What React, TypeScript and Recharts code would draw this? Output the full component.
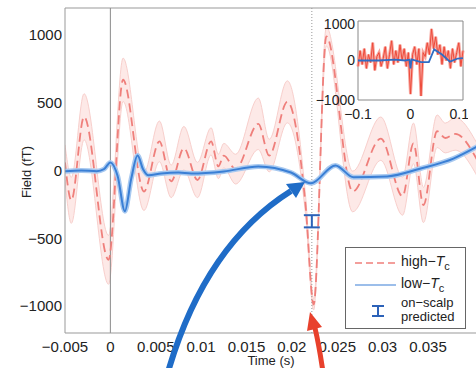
import {
  ComposedChart,
  Line,
  Area,
  Scatter,
  ErrorBar,
  XAxis,
  YAxis,
  ReferenceLine,
  ReferenceArea,
} from 'recharts';

// --- Data ---

const highT = [-0.005, -0.0043, -0.0029, -0.0002, 0.0014, 0.0037, 0.0054, 0.0067, 0.0081, 0.0096, 0.0111, 0.0119, 0.0125, 0.0138, 0.0163, 0.0175, 0.0195, 0.0215, 0.0224, 0.0238, 0.0267, 0.0298, 0.0322, 0.0334, 0.0345, 0.036, 0.0369, 0.038, 0.0404];
const highMean = [60, -220, 397, -660, 670, -155, 215, -80, 165, -70, 215, 30, 110, 10, 345, 110, 507, -250, -990, 990, -155, 235, -190, 200, -255, 290, 240, 270, 80];
const highSpread = [130, 170, 170, 180, 160, 140, 150, 120, 160, 130, 100, 90, 90, 110, 190, 120, 155, 70, 40, 70, 150, 160, 140, 150, 130, 120, 110, 120, 120];

const lowT = [-0.005, -0.0032, -0.0015, -0.0007, 0, 0.0008, 0.0016, 0.0023, 0.003, 0.0036, 0.0042, 0.0056, 0.0075, 0.0089, 0.0125, 0.0163, 0.0199, 0.0221, 0.0248, 0.0268, 0.0305, 0.0342, 0.0378, 0.0404];
const lowMean = [-5, 0, -5, 10, 60, -40, -300, -60, 110, 10, -35, -22, -15, -22, -7, 30, -15, -95, 37, -50, -44, 15, 88, 176];

const predicted = [{ t: 0.0222, v: -375, err: 45 }];
const peakTime = 0.0222;

const xTicks = [-0.005, 0, 0.005, 0.01, 0.015, 0.02, 0.025, 0.03, 0.035];
const yTicks = [-1000, -500, 0, 500, 1000];

// inset: wide time window
const insetT = [-0.1, -0.096, -0.092, -0.088, -0.084, -0.08, -0.076, -0.072, -0.068, -0.064, -0.06, -0.056, -0.052, -0.048, -0.044, -0.04, -0.036, -0.032, -0.028, -0.024, -0.02, -0.016, -0.012, -0.008, -0.004, 0, 0.004, 0.008, 0.012, 0.016, 0.02, 0.024, 0.028, 0.032, 0.036, 0.04, 0.044, 0.048, 0.052, 0.056, 0.06, 0.064, 0.068, 0.072, 0.076, 0.08, 0.084, 0.088, 0.092, 0.096, 0.1];
const insetHigh = [-150, 250, -100, 300, -200, 150, -50, 450, -250, 100, 200, -150, 50, 350, -200, 150, 500, -100, 250, -50, 400, 0, 300, -150, 200, -850, 150, 350, -100, 300, -900, 200, 100, 450, 150, 800, 300, 600, 150, 400, -100, 350, 0, 250, -200, 300, -50, 200, 450, -150, 250];
const insetLowT = [-0.1, -0.06, -0.03, -0.01, -0.002, 0, 0.002, 0.02, 0.035, 0.045, 0.06, 0.075, 0.09, 0.1];
const insetLow = [0, 0, 20, 0, 20, -200, 30, -40, -40, 280, 150, -30, 50, 60];

// --- Build tables ---

const rows = new Map<string, Record<string, number | number[]>>();
const rowAt = (t: number) => {
  const k = t.toFixed(5);
  if (!rows.has(k)) rows.set(k, { t });
  return rows.get(k)!;
};
highT.forEach((t, i) => {
  const r = rowAt(t);
  r.high = highMean[i];
  r.band = [highMean[i] - highSpread[i], highMean[i] + highSpread[i]];
});
lowT.forEach((t, i) => {
  rowAt(t).low = lowMean[i];
});
const mainData = Array.from(rows.values()).sort((a, b) => (a.t as number) - (b.t as number));

const insetRows = new Map<string, Record<string, number>>();
const insetAt = (t: number) => {
  const k = t.toFixed(4);
  if (!insetRows.has(k)) insetRows.set(k, { t });
  return insetRows.get(k)!;
};
insetT.forEach((t, i) => { insetAt(t).high = insetHigh[i]; });
insetLowT.forEach((t, i) => { insetAt(t).low = insetLow[i]; });
const insetData = Array.from(insetRows.values()).sort((a, b) => a.t - b.t);

const fmt = (v: number) => (v === 0 ? '0' : (v < 0 ? '\u2212' : '') + String(Math.abs(v)));

const FONT = '"Liberation Sans", Arial, sans-serif';
const TEXT = '#222';
const AXIS = '#999';
const RED = '#ef7f7b';
const BLUE = '#3a7fd5';

function Inset() {
  return (
    <div style={{ position: 'absolute', left: 306, top: 16 }}>
      <ComposedChart width={162} height={110} data={insetData} margin={{ top: 5, right: 5, bottom: 0, left: 0 }}>
        <XAxis
          dataKey="t"
          type="number"
          domain={[-0.1, 0.1]}
          ticks={[-0.1, 0, 0.1]}
          tickFormatter={fmt}
          axisLine={false}
          tickLine={false}
          tickSize={2}
          tickMargin={7}
          height={26}
          tick={{ fontSize: 14, fill: TEXT, fontFamily: FONT }}
        />
        <YAxis
          type="number"
          domain={[-1000, 1000]}
          ticks={[-1000, 0, 1000]}
          tickFormatter={fmt}
          axisLine={false}
          tickLine={false}
          tickSize={2}
          tickMargin={1}
          width={52}
          tick={{ fontSize: 14, fill: TEXT, fontFamily: FONT }}
        />
        <ReferenceArea x1={-0.1} x2={0.1} y1={-1000} y2={1000} fill="#fff" fillOpacity={1} stroke="#888" />
        <Line dataKey="high" type="linear" stroke="#f7a49c" strokeWidth={3} dot={false} connectNulls isAnimationActive={false} />
        <Line dataKey="high" type="linear" stroke="#ee4a3a" strokeWidth={1} dot={false} connectNulls isAnimationActive={false} />
        <Line dataKey="low" type="linear" stroke="#2f6cc4" strokeWidth={1.8} dot={false} connectNulls isAnimationActive={false} />
      </ComposedChart>
    </div>
  );
}

function Tc({ prefix }: { prefix: string }) {
  return (
    <span>
      {prefix}{'\u2212'}<i>T</i><sub style={{ fontSize: 11, lineHeight: 0 }}>c</sub>
    </span>
  );
}

function LegendBox() {
  return (
    <div
      style={{
        position: 'absolute', left: 345, top: 247, width: 119, height: 80,
        border: '1px solid #666', background: '#fff', fontFamily: FONT, fontSize: 14, color: TEXT,
      }}
    >
      <svg width={119} height={80} style={{ position: 'absolute', left: 0, top: 0 }}>
        <line x1={9} y1={15} x2={50} y2={15} stroke={RED} strokeWidth={1.5} strokeDasharray="7 4" />
        <line x1={9} y1={37} x2={50} y2={37} stroke={BLUE} strokeWidth={1.2} />
        <g stroke="#2c62b8" strokeWidth={2}>
          <line x1={32} y1={58} x2={32} y2={68} />
          <line x1={26} y1={58} x2={38} y2={58} />
          <line x1={26} y1={68} x2={38} y2={68} />
        </g>
      </svg>
      <div style={{ position: 'absolute', left: 55, top: 5, lineHeight: '16px' }}><Tc prefix="high" /></div>
      <div style={{ position: 'absolute', left: 55, top: 27, lineHeight: '16px' }}><Tc prefix="low" /></div>
      <div style={{ position: 'absolute', left: 55, top: 48, lineHeight: '14px', fontSize: 13 }}>on{'\u2212'}scalp<br />predicted</div>
    </div>
  );
}

function Arrows() {
  return (
    <svg width={476} height={368} style={{ position: 'absolute', left: 0, top: 0, pointerEvents: 'none' }}>
      <path d="M 168 372 Q 205 245 291 191" fill="none" stroke="#1f6cc7" strokeWidth={6} />
      <polygon points="305,182 296,198 286,184" fill="#1f6cc7" />
      <path d="M 323 372 Q 319 345 315 328" fill="none" stroke="#e8412c" strokeWidth={5} />
      <polygon points="310,312 322,327 307,331" fill="#e8412c" />
    </svg>
  );
}

export default function App() {
  return (
    <div style={{ position: 'fixed', left: 0, top: 0, width: 476, height: 368, overflow: 'hidden', background: '#fff' }}>
      <ComposedChart width={478} height={368} data={mainData} margin={{ top: 8, right: 1, bottom: 0, left: 0 }}>
        <XAxis
          dataKey="t"
          type="number"
          domain={[-0.005, 0.0404]}
          allowDataOverflow
          ticks={xTicks}
          tickFormatter={fmt}
          height={35}
          stroke={AXIS}
          tickLine={false}
          tickSize={4}
          tickMargin={4}
          tick={{ fontSize: 15, fill: TEXT, fontFamily: FONT }}
          label={{ value: 'Time (s)', position: 'insideBottom', offset: 3, fontSize: 13, fill: TEXT, fontFamily: FONT }}
        />
        <YAxis
          type="number"
          domain={[-1200, 1200]}
          allowDataOverflow
          ticks={yTicks}
          tickFormatter={fmt}
          width={65}
          stroke={AXIS}
          tickLine={false}
          tickSize={3}
          tickMargin={0}
          tick={{ fontSize: 15, fill: TEXT, fontFamily: FONT }}
          label={{
            content: () => (
              <text x={26} y={172} transform="rotate(-90 26 172)" textAnchor="middle" dominantBaseline="central"
                fontSize={13} fill={TEXT} fontFamily={FONT}>
                Field (fT)
              </text>
            ),
          }}
        />
        <ReferenceLine y={1200} stroke={AXIS} />
        <Area
          dataKey="band"
          type="monotone"
          fill="#fde3e1"
          fillOpacity={0.8}
          stroke="#f8cfcc"
          strokeWidth={1}
          connectNulls
          isAnimationActive={false}
        />
        <ReferenceLine x={0} stroke="#8a8a8a" strokeWidth={1} />
        <ReferenceLine x={peakTime} stroke="#999" strokeDasharray="1 2" />
        <Line dataKey="high" type="monotone" stroke={RED} strokeWidth={1.8} strokeDasharray="9 5" dot={false} connectNulls isAnimationActive={false} />
        <Line dataKey="low" type="monotone" stroke="#a8c9f0" strokeWidth={5} dot={false} connectNulls isAnimationActive={false} />
        <Line dataKey="low" type="monotone" stroke={BLUE} strokeWidth={2} dot={false} connectNulls isAnimationActive={false} />
        <Scatter data={predicted} dataKey="v" shape={() => <g />} isAnimationActive={false}>
          <ErrorBar dataKey="err" direction="y" width={8} stroke="#2c62b8" strokeWidth={2} />
        </Scatter>
      </ComposedChart>
      <Inset />
      <LegendBox />
      <Arrows />
    </div>
  );
}
